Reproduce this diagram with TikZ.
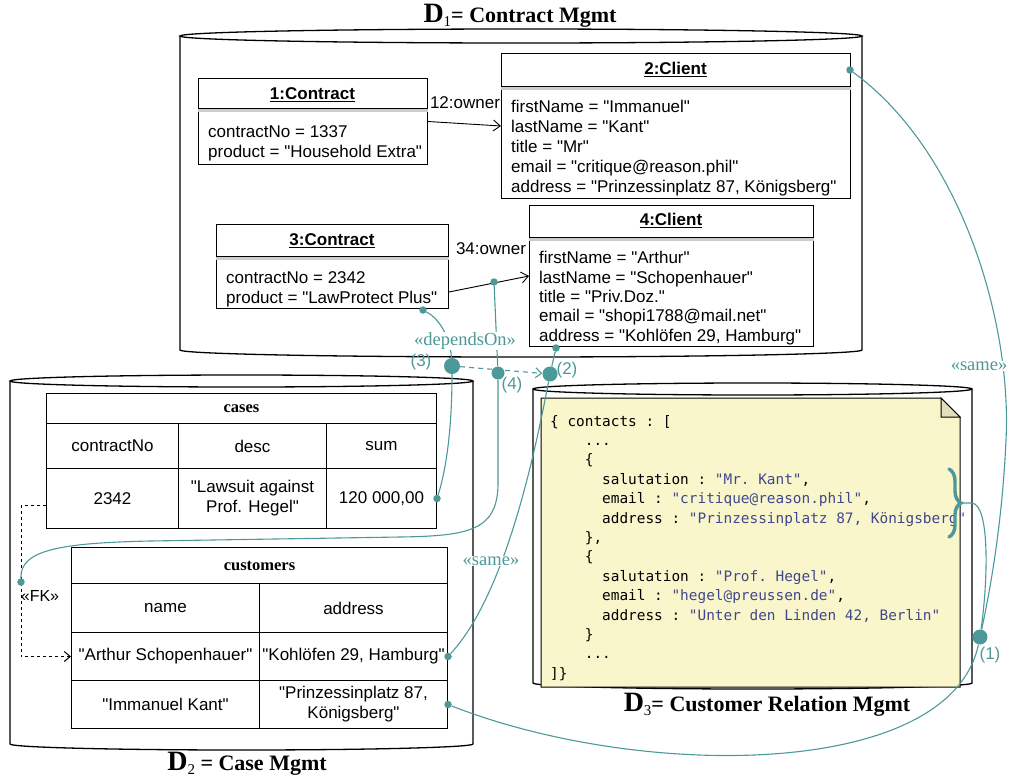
\documentclass[tikz,border=0pt]{standalone}
\usepackage{fontspec}
\setmainfont{Liberation Serif}
\setsansfont{Liberation Sans}[Ligatures=TeXOff]
\setmonofont{DejaVu Sans Mono}
\usetikzlibrary{arrows.meta,decorations.pathreplacing,calc}

\definecolor{tealc}{RGB}{77,152,152}
\definecolor{notefill}{RGB}{250,246,204}
\definecolor{notefold}{RGB}{226,222,190}
\definecolor{jstr}{RGB}{64,72,140}

% database drum: left x, right x, top centre y, bottom y, ellipse radius
\newcommand\dbdrum[5]{%
  \draw[drum] (#1,#3) -- (#1,#4) arc[start angle=180,end angle=0,x radius={(#2-#1)/2},y radius=#5] -- (#2,#3);
  \draw[drum] ({(#1+#2)/2},#3) ellipse[x radius={(#2-#1)/2},y radius=#5];}
% compartment line under an object header
\newcommand\umlhead[2]{%
  \draw[line width=2.4pt,draw=gray!40] ([yshift=-#2pt-2.4pt]#1.north west) -- ([yshift=-#2pt-2.4pt]#1.north east);
  \draw[line width=1pt] ([yshift=-#2pt]#1.north west) -- ([yshift=-#2pt]#1.north east);}
\newcommand\dbD[1]{{\fontsize{28}{28}\selectfont D}{\mdseries\fontsize{15}{15}\selectfont\raisebox{-4pt}{#1}}}
\newcommand\js[1]{\textcolor{jstr}{#1}}

\tikzset{
  drum/.style={line width=1.3pt},
  umlbox/.style={draw,line width=1pt,inner sep=0pt,anchor=north west},
  % multi-line text: the base anchor sits on the last line
  attr/.style={font=\sffamily\fontsize{17}{20}\selectfont,align=left,inner sep=0pt,anchor=base west},
  umltitle/.style={font=\sffamily\bfseries\fontsize{17}{20}\selectfont,inner sep=0pt,anchor=base},
  cell/.style={draw,line width=1pt,anchor=north west,inner sep=0pt,align=center,font=\sffamily\fontsize{17}{20}\selectfont},
  tabtitle/.style={cell,font=\bfseries\fontsize{16.5}{18}\selectfont},
  assoc/.style={line width=0.9pt,-{Straight Barb[length=7pt,width=11pt]}},
  tie/.style={draw=tealc,line width=1.1pt},
  dotS/.style={circle,fill=tealc,inner sep=0pt,minimum size=7.5pt},
  dotL/.style={circle,fill=tealc,inner sep=0pt,minimum size=#1},
  stereo/.style={text=tealc,font=\fontsize{18.5}{20}\selectfont,fill=white,inner sep=1pt},
  num/.style={text=tealc,font=\sffamily\fontsize{17}{20}\selectfont,inner sep=0pt},
  dbtitle/.style={font=\bfseries\fontsize{22}{26}\selectfont,inner sep=0pt},
}

\begin{document}
\begin{tikzpicture}[x=1pt,y=-1pt]
\useasboundingbox (0,0) rectangle (1010,777);

% ---------- the three databases ----------
\dbdrum{180}{862}{36}{350}{7}
\dbdrum{10}{473}{381}{744}{6}
\dbdrum{533}{972}{389}{683}{6}

\node[dbtitle] (t1) at (520,16) {\dbD{1}= Contract Mgmt};
\node[dbtitle] (t2) at (247,764) {\dbD{2} = Case Mgmt};
\node[dbtitle] (t3) at (767,705) {\dbD{3}= Customer Relation Mgmt};

% ---------- D1: object diagram ----------
\node[umlbox,minimum width=229pt,minimum height=86pt] (c1) at (198,78) {};
\umlhead{c1}{30}
\node[umltitle] (c1t) at (312.5,99) {1:Contract};
\draw[line width=1.1pt] ([yshift=-2.5pt]c1t.base west) -- ([yshift=-2.5pt]c1t.base east);
\node[attr] (c1a) at (208,157) {contractNo = 1337\\product = "Household Extra"};

\node[umlbox,minimum width=349pt,minimum height=145pt] (c2) at (501,53) {};
\umlhead{c2}{33}
\node[umltitle] (c2t) at (675.5,74) {2:Client};
\draw[line width=1.1pt] ([yshift=-2.5pt]c2t.base west) -- ([yshift=-2.5pt]c2t.base east);
\node[attr] (c2a) at (511,192) {firstName = "Immanuel"\\lastName = "Kant"\\title = "Mr"\\email = "critique@reason.phil"\\address = "Prinzessinplatz 87, Königsberg"};

\node[umlbox,minimum width=232pt,minimum height=84pt] (c3) at (216,224) {};
\umlhead{c3}{32}
\node[umltitle] (c3t) at (332,245) {3:Contract};
\draw[line width=1.1pt] ([yshift=-2.5pt]c3t.base west) -- ([yshift=-2.5pt]c3t.base east);
\node[attr] (c3a) at (226,303) {contractNo = 2342\\product = "LawProtect Plus"};

\node[umlbox,minimum width=284pt,minimum height=141pt] (c4) at (529,205) {};
\umlhead{c4}{32}
\node[umltitle] (c4t) at (671,225) {4:Client};
\draw[line width=1.1pt] ([yshift=-2.5pt]c4t.base west) -- ([yshift=-2.5pt]c4t.base east);
\node[attr,font=\sffamily\fontsize{17}{19.3}\selectfont] (c4a) at (539,341) {firstName = "Arthur"\\lastName = "Schopenhauer"\\title = "Priv.Doz."\\email = "shopi1788@mail.net"\\address = "Kohlöfen 29, Hamburg"};

\draw[assoc] (c1.east) -- (c2.west);
\node[attr,anchor=center] (own12) at (465,103) {12:owner};
\draw[assoc] ([yshift=17pt]c3.south east) -- (c4.west);
\node[attr,anchor=center] (own34) at (491,249) {34:owner};

% ---------- D2: relational tables ----------
\node[tabtitle,minimum width=390pt,minimum height=30pt] (cases) at (46,393) {cases};
\node[cell,minimum width=132pt,minimum height=45pt] (ch1) at (46,423) {contractNo};
\node[cell,minimum width=148pt,minimum height=45pt] (ch2) at (178,423) {desc};
\node[cell,minimum width=110pt,minimum height=45pt] (ch3) at (326,423) {sum};
\node[cell,minimum width=132pt,minimum height=60pt] (cd1) at (46,468) {2342};
\node[cell,minimum width=148pt,minimum height=60pt] (cd2) at (178,468) {"Lawsuit against\\Prof. Hegel"};
\node[cell,minimum width=110pt,minimum height=60pt] (cd3) at (326,468) {120 000,00};

\node[tabtitle,minimum width=376pt,minimum height=36pt] (cust) at (71,547) {customers};
\node[cell,minimum width=188pt,minimum height=49pt] (uh1) at (71,583) {name};
\node[cell,minimum width=188pt,minimum height=49pt] (uh2) at (259,583) {address};
\node[cell,minimum width=188pt,minimum height=48pt] (ur1a) at (71,632) {"Arthur Schopenhauer"};
\node[cell,minimum width=188pt,minimum height=48pt] (ur1b) at (259,632) {"Kohlöfen 29, Hamburg"};
\node[cell,minimum width=188pt,minimum height=48pt] (ur2a) at (71,680) {"Immanuel Kant"};
\node[cell,minimum width=188pt,minimum height=48pt] (ur2b) at (259,680) {"Prinzessinplatz 87,\\Königsberg"};

% foreign key
\coordinate (fkc) at (21,582);
\draw[line width=1pt,dash pattern=on 3pt off 3pt,-{Straight Barb[length=6pt,width=10pt]}]
  ([yshift=-7pt]cd1.west) -| (fkc) -- (fkc |- ur1a.west) -- (ur1a.west);
\node[font=\sffamily\fontsize{16}{18}\selectfont,inner sep=0pt] (fklab) at (40,596) {«FK»};

% ---------- D3: document store ----------
\filldraw[fill=notefill,line width=1pt] (541,398) -- (941,398) -- (960,417) -- (960,687) -- (541,687) -- cycle;
\filldraw[fill=notefold,line width=1pt] (941,398) -- (941,417) -- (960,417) -- cycle;
\node[font=\ttfamily\fontsize{14.4}{19.4}\selectfont,align=left,inner sep=0pt,anchor=base west] (json) at (550,678.2) {%
\{ contacts : [\\
~~~~...\\
~~~~\{\\
~~~~~~salutation : \js{"Mr. Kant"},\\
~~~~~~email : \js{"critique@reason.phil"},\\
~~~~~~address : \js{"Prinzessinplatz 87, Königsberg"}\\
~~~~\},\\
~~~~\{\\
~~~~~~salutation : \js{"Prof. Hegel"},\\
~~~~~~email : \js{"hegel@preussen.de"},\\
~~~~~~address : \js{"Unter den Linden 42, Berlin"}\\
~~~~\}\\
~~~~...\\
]\}};
\draw[tealc,line width=3.4pt,line cap=round,decorate,decoration={brace,amplitude=12pt,aspect=0.5}] (949,469) -- (949,537);
\coordinate (bt) at (962,503);

% ---------- correspondence links ----------
\node[dotS] (s3) at (423,310) {};
\node[dotS] (s34) at (494,282) {};
\node[dotS] (s4) at (556,348) {};
\node[dotS] (s2) at (850,70) {};
\node[dotS] (sc) at (cd3.east) {};
\node[dotS] (su1) at (ur1b.east) {};
\node[dotS] (su2) at (ur2b.east) {};
\node[dotS] (fk) at (fkc) {};
\node[dotL=16pt] (d3) at (452,366) {};
\node[dotL=13pt] (d4) at (498,373) {};
\node[dotL=15pt] (d2) at (550,374) {};
\node[dotL=15pt] (d1) at (980,637) {};

\draw[tie] (s3) .. controls (438,318) and (450,335) .. (d3);
\draw[tie] (d3) .. controls (452,430) and (446,470) .. (sc);
\draw[tie,dash pattern=on 5pt off 4pt,-{Straight Barb[length=6pt,width=10pt]}] (d3) -- (d2);
\draw[tie] (s34) -- (d4);
\draw[tie] (d4) -- (498,485) .. controls (497,530) and (470,536) .. (400,537) -- (150,541) .. controls (60,543) and (20,550) .. (fk);
\draw[tie] (s4) -- (d2);
\draw[tie] (d2) .. controls (530,480) and (500,600) .. (su1);
\draw[tie] (s2) .. controls (960,150) and (1012,320) .. (1006,440) .. controls (1002,530) and (988,600) .. (d1);
\draw[tie] (bt) -- (972,503) .. controls (990,505) and (988,580) .. (d1);
\draw[tie] (d1) .. controls (950,780) and (640,780) .. (su2);

\node[stereo] (dep) at (465,341) {«dependsOn»};
\node[stereo] (sameR) at (979,366) {«same»};
\node[stereo] (sameL) at (491,561) {«same»};

\node[num] (n3) at (421,362) {(3)};
\node[num] (n4) at (512,385) {(4)};
\node[num] (n2) at (567,370) {(2)};
\node[num] (n1) at (990,655) {(1)};
\end{tikzpicture}
\end{document}
